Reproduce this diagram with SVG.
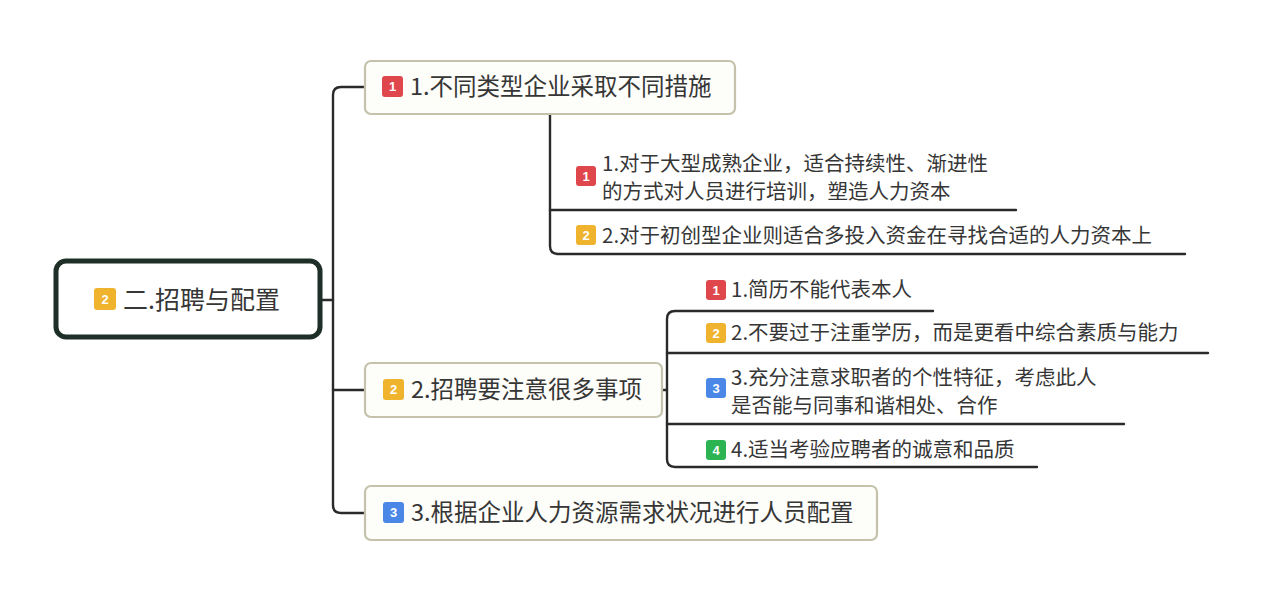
<svg xmlns="http://www.w3.org/2000/svg" width="1268" height="604" viewBox="0 0 1268 604">
<style>
.bg{fill:#ffffff}
.root{fill:#ffffff;stroke:#1d2f27;stroke-width:5}
.topic{fill:#fdfdf9;stroke:#c5c2ab;stroke-width:2.2}
.conn{fill:none;stroke:#2a2a2a;stroke-width:2.4;stroke-linecap:round}
.t{font-family:"Noto Sans CJK SC","Noto Sans",sans-serif;fill:#363636}
.tr{font-size:25px}
.tm{font-size:23.5px}
.ts{font-size:20.5px}
.bn{font-family:"Liberation Sans","Noto Sans",sans-serif;font-size:13px;fill:#ffffff;text-anchor:middle;font-weight:bold}
.red{fill:#e0474c}
.org{fill:#f0b32e}
.blu{fill:#4a87e6}
.grn{fill:#2cb352}
</style>
<rect class="bg" x="0" y="0" width="1268" height="604"/>
<g id="connectors">
<path class="conn" d="M322,300 H333"/>
<path class="conn" d="M365,87 H341 Q333,87 333,95 V505 Q333,513 341,513 H365"/>
<path class="conn" d="M333,390 H365"/>
<path class="conn" d="M550,115 V246 Q550,254 558,254 H1185"/>
<path class="conn" d="M550,210 H1016"/>
<path class="conn" d="M662,390 H667"/>
<path class="conn" d="M933,311 H675 Q667,311 667,319 V459 Q667,467 675,467 H1037"/>
<path class="conn" d="M667,353 H1208"/>
<path class="conn" d="M667,424 H1124"/>
</g>
<g id="root">
<rect class="root" x="56" y="261" width="264" height="76" rx="10"/>
<rect class="org" x="94" y="288" width="22" height="22" rx="3"/>
<text class="bn" x="105" y="304">2</text>
<text class="t tr" x="123" y="309">二.招聘与配置</text>
</g>
<g id="topic1">
<rect class="topic" x="365" y="61" width="370" height="53" rx="6"/>
<rect class="red" x="382" y="76" width="21" height="21" rx="3"/>
<text class="bn" x="392.5" y="91">1</text>
<text class="t tm" x="410" y="95">1.不同类型企业采取不同措施</text>
</g>
<g id="sub1-1">
<rect class="red" x="576" y="166" width="20" height="20" rx="3"/>
<text class="bn" x="586" y="180.5">1</text>
<text class="t ts" x="602" y="171">1.对于大型成熟企业，适合持续性、渐进性</text>
<text class="t ts" x="602" y="199">的方式对人员进行培训，塑造人力资本</text>
</g>
<g id="sub1-2">
<rect class="org" x="576" y="225" width="20" height="20" rx="3"/>
<text class="bn" x="586" y="239.5">2</text>
<text class="t ts" x="602" y="243">2.对于初创型企业则适合多投入资金在寻找合适的人力资本上</text>
</g>
<g id="topic2">
<rect class="topic" x="365" y="363" width="297" height="54" rx="6"/>
<rect class="org" x="383" y="379" width="21" height="21" rx="3"/>
<text class="bn" x="393.5" y="394">2</text>
<text class="t tm" x="411" y="398">2.招聘要注意很多事项</text>
</g>
<g id="sub2-1">
<rect class="red" x="706" y="280" width="20" height="20" rx="3"/>
<text class="bn" x="716" y="294.5">1</text>
<text class="t ts" x="731" y="297">1.简历不能代表本人</text>
</g>
<g id="sub2-2">
<rect class="org" x="706" y="323" width="20" height="20" rx="3"/>
<text class="bn" x="716" y="337.5">2</text>
<text class="t ts" x="731" y="340">2.不要过于注重学历，而是更看中综合素质与能力</text>
</g>
<g id="sub2-3">
<rect class="blu" x="706" y="378" width="20" height="20" rx="3"/>
<text class="bn" x="716" y="392.5">3</text>
<text class="t ts" x="731" y="385">3.充分注意求职者的个性特征，考虑此人</text>
<text class="t ts" x="731" y="413">是否能与同事和谐相处、合作</text>
</g>
<g id="sub2-4">
<rect class="grn" x="706" y="440" width="20" height="20" rx="3"/>
<text class="bn" x="716" y="454.5">4</text>
<text class="t ts" x="731" y="457">4.适当考验应聘者的诚意和品质</text>
</g>
<g id="topic3">
<rect class="topic" x="365" y="486" width="512" height="54" rx="6"/>
<rect class="blu" x="383" y="502" width="21" height="21" rx="3"/>
<text class="bn" x="393.5" y="517">3</text>
<text class="t tm" x="411" y="521">3.根据企业人力资源需求状况进行人员配置</text>
</g>
</svg>
